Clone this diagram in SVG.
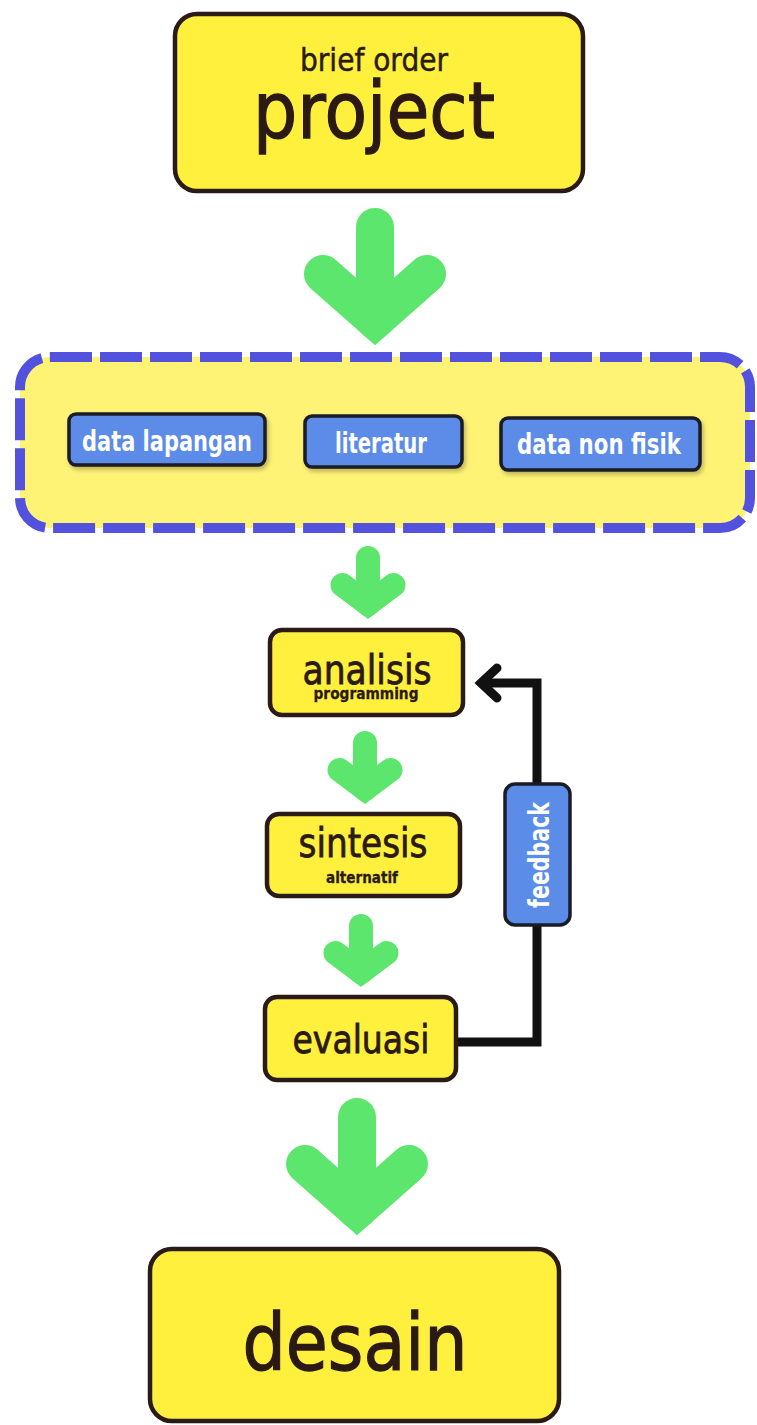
<svg xmlns="http://www.w3.org/2000/svg" width="757" height="1425" viewBox="0 0 757 1425">
<style>
.box{fill:#fff03e;stroke:#2b1b17;stroke-width:4.5}
.btn{fill:#5b8ce8;stroke:#1b1b26;stroke-width:3.5}
.t{font-family:"DejaVu Sans","Liberation Sans",sans-serif;fill:#2b1a14;stroke:#2b1a14;text-anchor:middle}
.w{font-family:"DejaVu Sans","Liberation Sans",sans-serif;fill:#ffffff;font-weight:bold;text-anchor:middle}
.ga{fill:none;stroke:#5ce66e;stroke-linecap:round;stroke-linejoin:miter;stroke-miterlimit:10}
.fb{fill:none;stroke:#111111;stroke-width:9;stroke-linejoin:miter}
</style>
<defs>
<filter id="sh" x="-10%" y="-10%" width="130%" height="140%">
<feDropShadow dx="2" dy="3" stdDeviation="2" flood-color="#000" flood-opacity="0.25"/>
</filter>
<g id="bigArrow">
<path class="ga" stroke-width="38" d="M0,19 L0,112"/>
<path class="ga" stroke-width="38" d="M-52,66 L0,112 L52,66"/>
</g>
<g id="smallArrow">
<path class="ga" stroke-width="24" d="M0,12 L0,58"/>
<path class="ga" stroke-width="24" d="M-25.5,39 L0,58 L25.5,39"/>
</g>
</defs>
<rect width="757" height="1425" fill="#ffffff"/>

<g id="arrows">
<use href="#bigArrow" x="375" y="208"/>
<use href="#smallArrow" x="368" y="546"/>
<use href="#smallArrow" x="365" y="731"/>
<use href="#smallArrow" x="361" y="914"/>
<use href="#bigArrow" x="357" y="1098"/>
</g>

<g id="connectors">
<path class="fb" d="M458,1042 L537,1042 L537,683 L484,683"/>
<path class="fb" stroke-linecap="round" d="M497,668 L481,683 L497,698"/>
</g>

<g id="project">
<rect class="box" x="175" y="14" width="408" height="177" rx="22"/>
<text class="t" x="374" y="71" font-size="32" stroke-width="0.5" textLength="148" lengthAdjust="spacingAndGlyphs">brief order</text>
<text class="t" x="374" y="138" font-size="79" stroke-width="1.3" textLength="242" lengthAdjust="spacingAndGlyphs">project</text>
</g>

<g id="data">
<rect x="20" y="357" width="730" height="171" rx="30" fill="#fff376" stroke="#5252de" stroke-width="10" stroke-dasharray="42 8"/>
<g id="data-lapangan">
<rect class="btn" x="69" y="414" width="196" height="51" rx="7" filter="url(#sh)"/>
<text class="w" x="167" y="451" font-size="28" textLength="170" lengthAdjust="spacingAndGlyphs">data lapangan</text>
</g>
<g id="literatur">
<rect class="btn" x="305" y="416" width="157" height="51" rx="7" filter="url(#sh)"/>
<text class="w" x="381" y="453" font-size="28" textLength="92" lengthAdjust="spacingAndGlyphs">literatur</text>
</g>
<g id="data-non-fisik">
<rect class="btn" x="501" y="418" width="199" height="52" rx="7" filter="url(#sh)"/>
<text class="w" x="599" y="454" font-size="28" textLength="164" lengthAdjust="spacingAndGlyphs">data non fisik</text>
</g>
</g>

<g id="analisis">
<rect class="box" x="270" y="630" width="193" height="85" rx="12"/>
<text class="t" x="367" y="684" font-size="40" stroke-width="0.8" textLength="129" lengthAdjust="spacingAndGlyphs">analisis</text>
<text class="t" x="366" y="699" font-size="16" font-weight="bold" stroke-width="0.3" textLength="105" lengthAdjust="spacingAndGlyphs">programming</text>
</g>

<g id="sintesis">
<rect class="box" x="267" y="814" width="193" height="82" rx="12"/>
<text class="t" x="363" y="857" font-size="40" stroke-width="0.8" textLength="129" lengthAdjust="spacingAndGlyphs">sintesis</text>
<text class="t" x="362" y="883" font-size="15" font-weight="bold" stroke-width="0.3" textLength="72" lengthAdjust="spacingAndGlyphs">alternatif</text>
</g>

<g id="evaluasi">
<rect class="box" x="265" y="997" width="191" height="83" rx="12"/>
<text class="t" x="361" y="1053" font-size="39" stroke-width="0.8" textLength="137" lengthAdjust="spacingAndGlyphs">evaluasi</text>
</g>

<g id="feedback">
<rect class="btn" x="505" y="784" width="65" height="141" rx="10"/>
<text class="w" transform="translate(549,855) rotate(-90)" x="0" y="0" font-size="28" textLength="106" lengthAdjust="spacingAndGlyphs">feedback</text>
</g>

<g id="desain">
<rect class="box" x="150" y="1249" width="409" height="172" rx="22"/>
<text class="t" x="355" y="1370" font-size="79" stroke-width="1.3" textLength="225" lengthAdjust="spacingAndGlyphs">desain</text>
</g>
</svg>
